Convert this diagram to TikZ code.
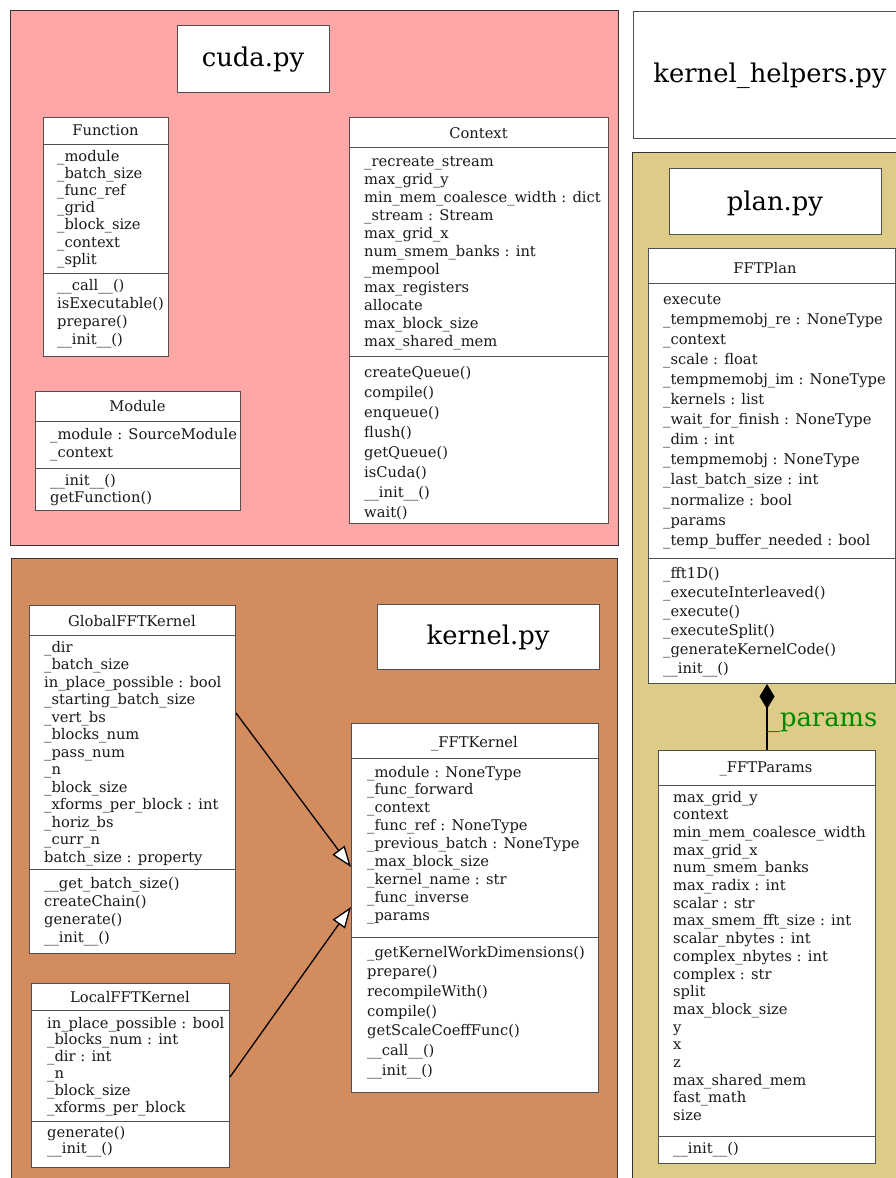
\documentclass[tikz,border=0pt]{standalone}
\usepackage{fontspec}
\setmainfont{DejaVu Serif}
\usetikzlibrary{arrows.meta}

\definecolor{cudafill}{RGB}{255,166,166}
\definecolor{kernfill}{RGB}{211,140,94}
\definecolor{planfill}{RGB}{220,204,136}
\definecolor{edgegray}{RGB}{80,80,80}
\definecolor{labgreen}{RGB}{0,136,0}

\tikzset{
  cluster/.style={draw=black!80, line width=0.9pt},
  box/.style={draw=edgegray, fill=white, line width=1pt, inner sep=0pt, anchor=north west},
  sepline/.style={draw=edgegray, line width=1pt},
  mem/.style={font=\fontsize{14.7}{17}\selectfont, inner sep=0pt, text=black!90},
  titletext/.style={font=\fontsize{25.8}{30}\selectfont, inner sep=0pt},
  inherit/.style={line width=1.3pt, -{Triangle[fill=white, length=21pt, width=15pt]}},
  compose/.style={line width=1.3pt, -{Diamond[fill=black, length=25pt, width=15pt]}},
}

% name, left, top, right, bottom, header line y, separator y
\newcommand\umlbox[7]{%
  \node[box, minimum width={#4-#2}, minimum height={#5-#3}] (#1) at (#2,#3) {};
  \draw[sepline] (#2,#6) -- (#4,#6);
  \draw[sepline] (#2,#7) -- (#4,#7);
}
% name, x centre, baseline, text
\newcommand\umlhead[4]{\node[mem, anchor=base] (#1-h) at (#2,#3) {#4};}
% name, suffix, x, first baseline, step, list
\newcommand\umllines[6]{%
  \foreach \mtext [count=\i] in {#6} {\node[mem, anchor=base west] (#1-#2\i) at (#3,{#4+(\i-1)*#5}) {\mtext};}%
}

\begin{document}
\begin{tikzpicture}[x=1pt,y=-1pt]
\useasboundingbox (0,0) rectangle (896,1178);
\fill[white] (0,0) rectangle (896,1178);

% clusters
\path[cluster, fill=cudafill] (10,10) rectangle (618,545);
\path[cluster, fill=kernfill] (11,558) rectangle (617,1186);
\path[cluster, fill=planfill] (632,152) rectangle (910,1186);

% module labels
\node[box, minimum width=152, minimum height=67] (cudalab) at (177,25) {};
\node[titletext, anchor=base] (cudatxt) at (253,66) {cuda.py};
\node[box, minimum width=280, minimum height=127] (khlab) at (633,11) {};
\node[titletext, anchor=base] (khtxt) at (770,82) {kernel\_helpers.py};
\node[box, minimum width=212, minimum height=66] (planlab) at (669,168) {};
\node[titletext, anchor=base] (plantxt) at (775,210) {plan.py};
\node[box, minimum width=222, minimum height=65] (kernlab) at (377,604) {};
\node[titletext, anchor=base] (kerntxt) at (488,644) {kernel.py};

% Function
\umlbox{fn}{43}{117}{168}{356}{144}{273}
\umlhead{fn}{105.5}{135}{Function}
\umllines{fn}{a}{57}{161}{17.2}{\_module, \_batch\_size, \_func\_ref, \_grid, \_block\_size, \_context, \_split}
\umllines{fn}{m}{57}{290}{18}{\_\_call\_\_(), isExecutable(), prepare(), \_\_init\_\_()}

% Module
\umlbox{md}{35}{391}{240}{510}{421}{468}
\umlhead{md}{137.5}{411}{Module}
\umllines{md}{a}{50}{439}{18.5}{\_module : SourceModule, \_context}
\umllines{md}{m}{50}{485}{17}{\_\_init\_\_(), getFunction()}

% Context
\umlbox{cx}{349}{117}{608}{523}{147}{356}
\umlhead{cx}{478.5}{138}{Context}
\umllines{cx}{a}{364}{166}{18}{\_recreate\_stream, max\_grid\_y, min\_mem\_coalesce\_width : dict, \_stream : Stream, max\_grid\_x, num\_smem\_banks : int, \_mempool, max\_registers, allocate, max\_block\_size, max\_shared\_mem}
\umllines{cx}{m}{364}{377}{20}{createQueue(), compile(), enqueue(), flush(), getQueue(), isCuda(), \_\_init\_\_(), wait()}

% FFTPlan
\umlbox{fp}{648}{248}{895}{683}{283}{558}
\umlhead{fp}{765}{273}{FFTPlan}
\umllines{fp}{a}{663}{304}{20.1}{execute, \_tempmemobj\_re : NoneType, \_context, \_scale : float, \_tempmemobj\_im : NoneType, \_kernels : list, \_wait\_for\_finish : NoneType, \_dim : int, \_tempmemobj : NoneType, \_last\_batch\_size : int, \_normalize : bool, \_params, \_temp\_buffer\_needed : bool}
\umllines{fp}{m}{663}{578}{19}{\_fft1D(), \_executeInterleaved(), \_execute(), \_executeSplit(), \_generateKernelCode(), \_\_init\_\_()}

% _FFTParams
\umlbox{pp}{658}{750}{875}{1163}{785}{1136}
\umlhead{pp}{766}{772}{\_FFTParams}
\umllines{pp}{a}{673}{802}{17.7}{max\_grid\_y, context, min\_mem\_coalesce\_width, max\_grid\_x, num\_smem\_banks, max\_radix : int, scalar : str, max\_smem\_fft\_size : int, scalar\_nbytes : int, complex\_nbytes : int, complex : str, split, max\_block\_size, y, x, z, max\_shared\_mem, fast\_math, size}
\umllines{pp}{m}{673}{1153}{17}{\_\_init\_\_()}

% GlobalFFTKernel
\umlbox{gk}{29}{605}{235}{953}{635}{869}
\umlhead{gk}{132}{626}{GlobalFFTKernel}
\umllines{gk}{a}{44}{652}{17.5}{\_dir, \_batch\_size, in\_place\_possible : bool, \_starting\_batch\_size, \_vert\_bs, \_blocks\_num, \_pass\_num, \_n, \_block\_size, \_xforms\_per\_block : int, \_horiz\_bs, \_curr\_n, batch\_size : property}
\umllines{gk}{m}{44}{888}{18}{\_\_get\_batch\_size(), createChain(), generate(), \_\_init\_\_()}

% _FFTKernel
\umlbox{fk}{351}{723}{598}{1092}{758}{937}
\umlhead{fk}{474.5}{747}{\_FFTKernel}
\umllines{fk}{a}{367}{777}{17.9}{\_module : NoneType, \_func\_forward, \_context, \_func\_ref : NoneType, \_previous\_batch : NoneType, \_max\_block\_size, \_kernel\_name : str, \_func\_inverse, \_params}
\umllines{fk}{m}{367}{957}{19.7}{\_getKernelWorkDimensions(), prepare(), recompileWith(), compile(), getScaleCoeffFunc(), \_\_call\_\_(), \_\_init\_\_()}

% LocalFFTKernel
\umlbox{lk}{31}{983}{229}{1167}{1010}{1121}
\umlhead{lk}{130}{1002}{LocalFFTKernel}
\umllines{lk}{a}{47}{1028}{16.8}{in\_place\_possible : bool, \_blocks\_num : int, \_dir : int, \_n, \_block\_size, \_xforms\_per\_block}
\umllines{lk}{m}{47}{1137}{16}{generate(), \_\_init\_\_()}

% connector end points
\path (gk.north east) ++(0,108) coordinate (gkout);
\path (fk.north west) ++(0,144) coordinate (fkin1);
\path (lk.north east) ++(0,94) coordinate (lkout);
\path (fk.north west) ++(0,184) coordinate (fkin2);

\draw[inherit] (gkout) -- (fkin1);
\draw[inherit] (lkout) -- (fkin2);

% composition
\draw[compose] (pp.north) -- (pp.north |- fp.south);
\node[font=\fontsize{25.8}{30}\selectfont, text=labgreen, anchor=base west, inner sep=0pt] (plab) at (767,726) {\_params};

\end{tikzpicture}
\end{document}
